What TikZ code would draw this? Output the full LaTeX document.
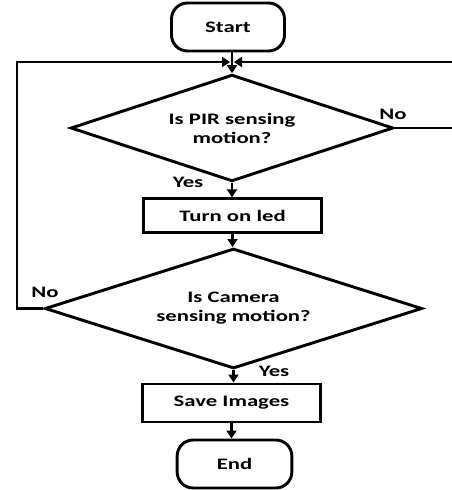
\documentclass[tikz,border=0pt]{standalone}
\usepackage{fontspec}
\setmainfont{Carlito}
\usetikzlibrary{shapes.geometric,arrows.meta}
\newcommand\sx[1]{\scalebox{1.42}[1]{#1}}
\begin{document}
\begin{tikzpicture}[x=0.75pt,y=-0.75pt,
  every node/.style={font=\fontsize{12}{14.25}\selectfont\bfseries},
  term/.style={draw, line width=2.2pt, rounded corners=12pt, minimum width=84.75pt, minimum height=36pt, inner sep=0pt},
  proc/.style={draw, line width=2.2pt, inner sep=0pt},
  dec/.style={draw, diamond, shape aspect=3, line width=2.2pt, inner sep=0pt, align=center},
  flow/.style={line width=2.2pt, -{Triangle[length=6pt,width=7.5pt]}},
  lbl/.style={inner sep=0pt}]
\useasboundingbox (0,0) rectangle (452,490);
\clip (0,0) rectangle (452,490);

\node[term] (start) at (228,27) {\sx{Start}};
\node[dec, minimum width=242pt, minimum height=80pt] (d1) at (232,128) {\sx{Is PIR sensing}\\\sx{motion?}};
\node[proc, minimum width=134pt, minimum height=25pt] (led) at (232.5,215.5) {\sx{Turn on led}};
\node[dec, minimum width=283pt, minimum height=90pt] (d2) at (233.5,308.5) {\sx{Is Camera}\\\sx{sensing motion?}};
\node[proc, minimum width=133pt, minimum height=28.5pt] (save) at (231.5,403) {\sx{Save Images}};
\node[term, minimum width=86pt] (end) at (234.5,464) {\sx{End}};

\coordinate (merge) at (232,62);
\coordinate (lc) at (17,62);
\coordinate (rc) at (470,62);

\draw[flow] (start.south -| merge) -- (d1.north);
\draw[flow] (d1.south) -- (d1.south |- led.north);
\draw[flow] (led.south) -- (led.south |- d2.north);
\draw[flow] (d2.south) -- (d2.south |- save.north);
\draw[flow] (save.south) -- (save.south |- end.north);
\draw[flow, shorten >=1.5pt] (d2.west) -| (lc) -- (merge);
\draw[flow, shorten >=1.5pt] (d1.east) -| (rc) -- (merge);

\node[lbl] (no1) at (393,114) {\sx{No}};
\node[lbl] (yes1) at (188,182) {\sx{Yes}};
\node[lbl] (no2) at (45,292) {\sx{No}};
\node[lbl] (yes2) at (274,371) {\sx{Yes}};
\end{tikzpicture}
\end{document}
